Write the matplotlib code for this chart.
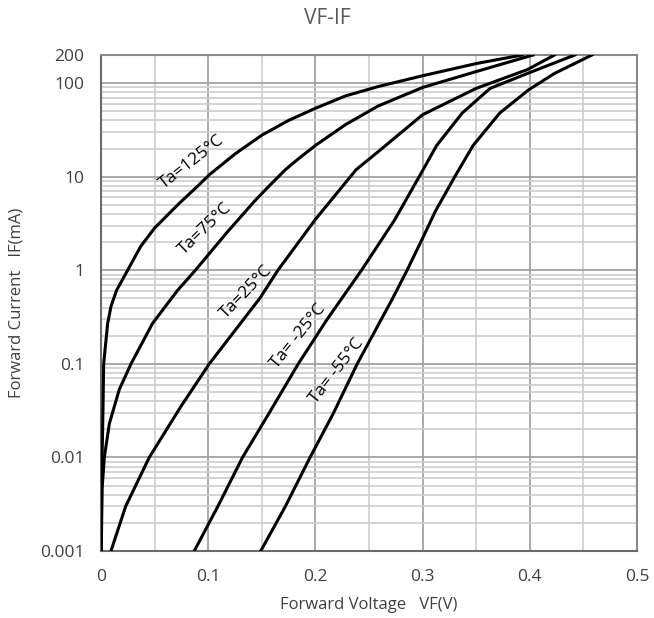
import matplotlib
matplotlib.use("Agg")
import matplotlib.pyplot as plt
from matplotlib.ticker import FixedLocator, LogLocator, NullFormatter, MultipleLocator

# ---- data (VF in V, IF in mA) ----
v_125 = [0.0002, 0.0005, 0.001, 0.0018, 0.0025, 0.004, 0.0062, 0.0093, 0.0145, 0.0248,
         0.037, 0.050, 0.073, 0.090, 0.1006, 0.125, 0.150, 0.175, 0.1997, 0.228,
         0.2585, 0.30, 0.35, 0.393]
i_125 = [0.001, 0.003, 0.01, 0.03, 0.1, 0.15, 0.27, 0.41, 0.61, 1.0,
         1.8, 2.83, 5.2, 7.9, 10.4, 17.5, 27.8, 40, 53.7, 73,
         92, 120, 162, 200]

v_75 = [0.0002, 0.0006, 0.001, 0.0031, 0.0078, 0.017, 0.028, 0.048, 0.0714, 0.088,
        0.117, 0.143, 0.157, 0.172, 0.184, 0.2005, 0.228, 0.2585, 0.30, 0.35, 0.403]
i_75 = [0.001, 0.002, 0.0046, 0.01, 0.023, 0.053, 0.1, 0.27, 0.61, 1.0,
        2.5, 5.45, 8.0, 11.9, 15.5, 21.8, 36, 57, 90, 133, 200]

v_25 = [0.0093, 0.023, 0.045, 0.0745, 0.101, 0.148, 0.165, 0.200, 0.238, 0.2585,
        0.30, 0.35, 0.398, 0.423]
i_25 = [0.001, 0.003, 0.01, 0.035, 0.1, 0.5, 1.0, 3.5, 11.9, 18.5,
        46, 88, 140, 200]

v_m25 = [0.087, 0.109, 0.132, 0.157, 0.184, 0.211, 0.243, 0.274, 0.3005, 0.313,
         0.337, 0.363, 0.40, 0.442]
i_m25 = [0.001, 0.003, 0.01, 0.03, 0.1, 0.3, 1.0, 3.47, 11.9, 21.5,
         48, 88, 130, 200]

v_m55 = [0.149, 0.172, 0.195, 0.217, 0.239, 0.272, 0.2855, 0.300, 0.312, 0.330,
         0.347, 0.372, 0.399, 0.423, 0.458]
i_m55 = [0.001, 0.003, 0.01, 0.03, 0.1, 0.5, 1.0, 2.2, 4.3, 10,
         21.5, 48, 85, 127, 200]

labels = ["Ta=125°C", "Ta=75°C", "Ta=25°C", "Ta= -25°C", "Ta= -55°C"]

x_ticks = [0, 0.1, 0.2, 0.3, 0.4, 0.5]
x_ticklabels = ["0", "0.1", "0.2", "0.3", "0.4", "0.5"]
y_ticks = [0.001, 0.01, 0.1, 1, 10, 100, 200]
y_ticklabels = ["0.001", "0.01", "0.1", "1", "10", "100", "200"]

title = "VF-IF"
xlabel = "Forward Voltage   VF(V)"
ylabel = "Forward Current   IF(mA)"

# ---- figure ----
plt.rcParams['font.family'] = ['Open Sans', 'DejaVu Sans']
fig = plt.figure(figsize=(6.54, 6.18), dpi=100)
ax = fig.add_axes([101/654, 1 - 551/618, (637 - 101)/654, (551 - 55)/618])

ax.set_yscale('log')
ax.set_xlim(0, 0.5)
ax.set_ylim(0.001, 200)

ax.xaxis.set_major_locator(FixedLocator(x_ticks))
ax.set_xticklabels(x_ticklabels)
ax.xaxis.set_minor_locator(MultipleLocator(0.05))
ax.yaxis.set_major_locator(FixedLocator(y_ticks))
ax.set_yticklabels(y_ticklabels)
ax.yaxis.set_minor_locator(LogLocator(base=10, subs=[2, 3, 4, 5, 6, 7, 8, 9], numticks=20))
ax.yaxis.set_minor_formatter(NullFormatter())

ax.grid(True, which='major', color='#9c9c9c', linewidth=1.2)
ax.grid(True, which='minor', color='#cdcdcd', linewidth=1.2)
ax.set_axisbelow(True)
ax.tick_params(which='both', length=0, labelsize=12.5, colors='#404040')
ax.tick_params(axis='x', pad=13)
ax.tick_params(axis='y', pad=12)

for s in ax.spines.values():
    s.set_color('#8a8a8a')
    s.set_linewidth(1.5)
ax.spines['bottom'].set_color('#6a6a6a')
ax.spines['left'].set_color('#6a6a6a')

for v, i in [(v_125, i_125), (v_75, i_75), (v_25, i_25), (v_m25, i_m25), (v_m55, i_m55)]:
    ax.plot(v, i, color='black', linewidth=2.2, solid_joinstyle='round', zorder=3)

label_pos = [(0.0850, 14.3, 38), (0.0970, 2.8, 44), (0.136, 0.58, 46),
             (0.1840, 0.195, 51), (0.2195, 0.085, 52)]
for text, (x, y, rot) in zip(labels, label_pos):
    ax.text(x, y, text, rotation=rot, rotation_mode='anchor', ha='center', va='center',
            fontsize=12.5, color='black', zorder=4)

fig.text(0.5, 1 - 18/618, title, ha='center', va='center', fontsize=15, color='#595959')
fig.text((101 + 637) / 2 / 654, 1 - 605/618, xlabel, ha='center', va='center',
         fontsize=12, color='#404040')
fig.text(17/654, 1 - 303/618, ylabel, ha='center', va='center', rotation=90,
         fontsize=12, color='#404040')

fig.savefig('out.png', dpi=100)
